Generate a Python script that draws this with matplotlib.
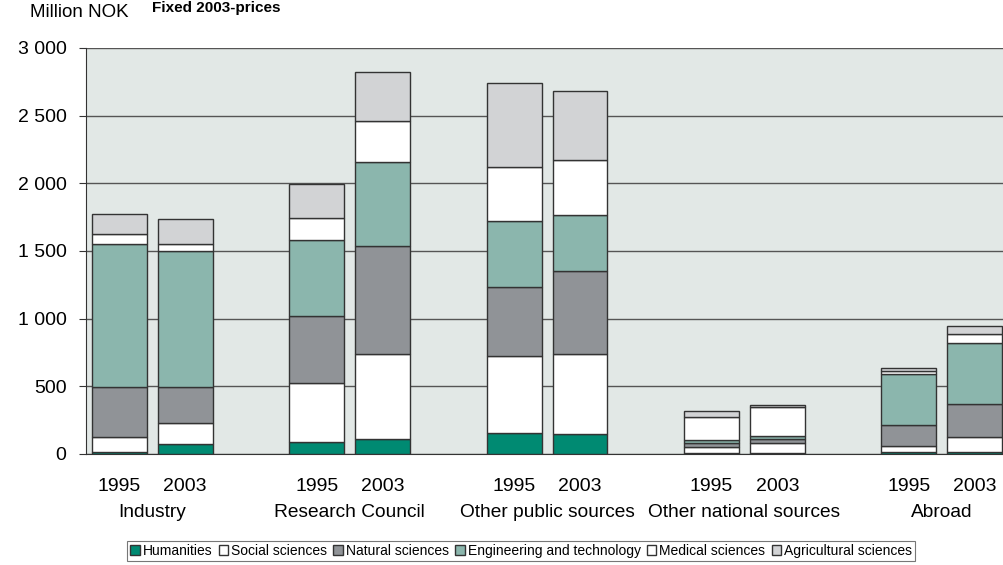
import matplotlib.pyplot as plt
import numpy as np

plt.rcParams['font.family'] = ['Liberation Sans', 'DejaVu Sans']

groups = ['Industry', 'Research Council', 'Other public sources', 'Other national sources', 'Abroad']
years = ['1995', '2003']
fields = ['Humanities', 'Social sciences', 'Natural sciences', 'Engineering and technology',
          'Medical sciences', 'Agricultural sciences']

# values per field, order: Industry 95/03, RC 95/03, Other public 95/03, Other national 95/03, Abroad 95/03
humanities = [15, 71, 86, 111, 152, 145, 8, 8, 12, 15]
social = [113, 155, 440, 631, 573, 597, 42, 74, 48, 114]
natural = [366, 268, 496, 798, 508, 609, 32, 30, 152, 237]
engineering = [1059, 1005, 560, 620, 492, 418, 23, 20, 378, 456]
medical = [71, 54, 163, 297, 393, 400, 171, 212, 20, 64]
agricultural = [150, 182, 250, 366, 626, 514, 40, 20, 25, 60]

colors = ['#008a72', '#ffffff', '#909397', '#8bb6ad', '#ffffff', '#d2d3d5']

fig = plt.figure(figsize=(10.04, 5.65), dpi=100)
ax = fig.add_axes([0.0857, 0.1965, 0.914, 0.7186])
ax.set_facecolor('#e2e8e6')

gpos = np.arange(len(groups))
off = 0.167
x = np.ravel(np.column_stack([gpos - off, gpos + off]))
width = 0.278

bottom = np.zeros(len(x))
for name, vals, c in zip(fields, [humanities, social, natural, engineering, medical, agricultural], colors):
    ax.bar(x, vals, width, bottom=bottom, color=c, edgecolor='#333333', linewidth=1.0,
           label=name, zorder=3)
    bottom += np.array(vals)

ax.set_ylim(0, 3000)
ax.set_xlim(-0.335, 4.313)
ax.set_yticks(np.arange(0, 3001, 500))
ax.set_yticklabels([f'{v:,}'.replace(',', ' ') for v in range(0, 3001, 500)], fontsize=14)
ax.yaxis.grid(True, color='#555555', linewidth=1.0, zorder=1)
ax.set_axisbelow(True)
ax.tick_params(axis='y', direction='out', length=5, color='#333333', pad=9)

ax.set_xticks(x)
ax.set_xticklabels(years * len(groups), fontsize=14)
ax.tick_params(axis='x', length=0, pad=17)

for g, name in zip(gpos, groups):
    ax.text(g, -0.145, name, transform=ax.get_xaxis_transform(), ha='center', va='center',
            fontsize=13.8)

for s in ['top', 'right']:
    ax.spines[s].set_visible(False)
ax.spines['left'].set_color('#333333')
ax.spines['bottom'].set_color('#333333')

fig.text(0.03, 0.978, 'Million NOK', fontsize=13.5, va='center', ha='left')
fig.text(0.151, 0.985, 'Fixed 2003-prices', fontsize=11, fontweight='bold', va='center', ha='left')

leg = fig.legend(loc='lower center', bbox_to_anchor=(0.519, -0.006), ncol=6, fontsize=10,
                 handlelength=0.7, handleheight=0.7, handletextpad=0.2, columnspacing=0.45,
                 borderpad=0.25, frameon=True, fancybox=False, edgecolor='#555555')
leg.get_frame().set_linewidth(0.8)

fig.savefig('out.png', dpi=100)
